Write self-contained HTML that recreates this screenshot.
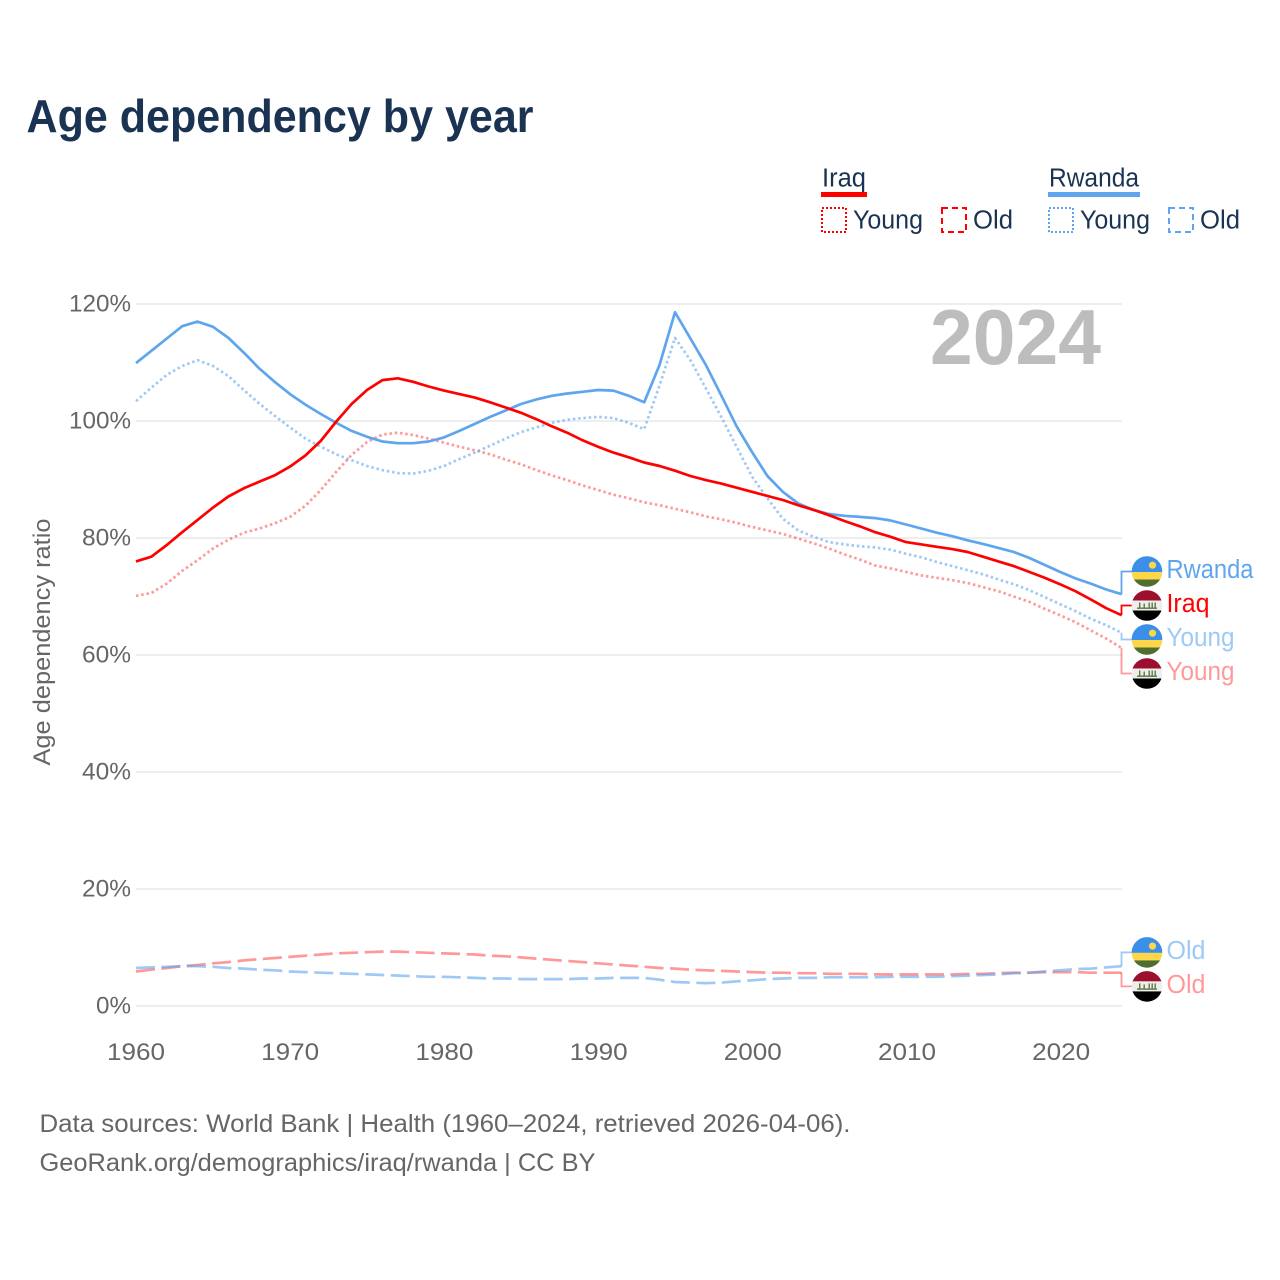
<!DOCTYPE html>
<html lang="en">
<head>
<meta charset="utf-8">
<title>Age dependency by year</title>
<style>
html,body{margin:0;padding:0;background:#fff;width:1280px;height:1280px;overflow:hidden}
svg{display:block}
text{font-family:"Liberation Sans",sans-serif}
</style>
</head>
<body>
<svg id="chart" xmlns="http://www.w3.org/2000/svg" width="1280" height="1280" viewBox="0 0 1280 1280">
  <defs>
    <clipPath id="flag-clip"><circle cx="0" cy="0" r="15.3"/></clipPath>
  </defs>
  <rect x="0" y="0" width="1280" height="1280" fill="#fff"/>
  <text x="26.5" y="132" font-size="46" font-weight="700" fill="#1a3352" textLength="507" lengthAdjust="spacingAndGlyphs">Age dependency by year</text>

  <g>
    <text x="822" y="186.5" font-size="25.5" fill="#1a3352" textLength="44" lengthAdjust="spacingAndGlyphs">Iraq</text>
    <rect x="821" y="192" width="46" height="5" fill="#ff0000"/>
    <rect x="822" y="208" width="24" height="24" fill="none" stroke="#ff0000" stroke-width="2" stroke-dasharray="2 2"/>
    <text x="853" y="228.5" font-size="25.5" fill="#1a3352" textLength="70" lengthAdjust="spacingAndGlyphs">Young</text>
    <rect x="942" y="208" width="24" height="24" fill="none" stroke="#ff0000" stroke-width="2" stroke-dasharray="6 4"/>
    <text x="973" y="228.5" font-size="25.5" fill="#1a3352" textLength="40" lengthAdjust="spacingAndGlyphs">Old</text>

    <text x="1049" y="186.5" font-size="25.5" fill="#1a3352" textLength="90" lengthAdjust="spacingAndGlyphs">Rwanda</text>
    <rect x="1048" y="192" width="92" height="5" fill="#5fa5ee"/>
    <rect x="1049" y="208" width="24" height="24" fill="none" stroke="#5fa5ee" stroke-width="2" stroke-dasharray="2 2"/>
    <text x="1080" y="228.5" font-size="25.5" fill="#1a3352" textLength="70" lengthAdjust="spacingAndGlyphs">Young</text>
    <rect x="1169" y="208" width="24" height="24" fill="none" stroke="#5fa5ee" stroke-width="2" stroke-dasharray="6 4"/>
    <text x="1200" y="228.5" font-size="25.5" fill="#1a3352" textLength="40" lengthAdjust="spacingAndGlyphs">Old</text>
  </g>

  <g id="grid"></g>
  <text x="1101" y="364" text-anchor="end" font-size="78" font-weight="700" fill="#bdbdbd" textLength="171" lengthAdjust="spacingAndGlyphs">2024</text>
  <g id="y-ticks"></g>
  <g id="x-ticks"></g>
  <text transform="translate(50,642) rotate(-90)" text-anchor="middle" font-size="24" fill="#666" textLength="247" lengthAdjust="spacingAndGlyphs">Age dependency ratio</text>
  <g id="series"></g>
  <g id="end-labels"></g>

  <text x="39.5" y="1132" font-size="25" fill="#666" textLength="811" lengthAdjust="spacingAndGlyphs">Data sources: World Bank | Health (1960–2024, retrieved 2026-04-06).</text>
  <text x="39.5" y="1171" font-size="25" fill="#666" textLength="556" lengthAdjust="spacingAndGlyphs">GeoRank.org/demographics/iraq/rwanda | CC BY</text>
</svg>
<script>
var firstYear = 1960;
var yearTicks = [1960, 1970, 1980, 1990, 2000, 2010, 2020];
var valueTicks = [0, 20, 40, 60, 80, 100, 120];

var rwandaTotal = [109.9,112.0,114.1,116.2,117.0,116.1,114.2,111.7,109.0,106.7,104.6,102.8,101.2,99.7,98.3,97.3,96.5,96.2,96.2,96.5,97.2,98.3,99.5,100.7,101.8,102.9,103.7,104.3,104.7,105.0,105.3,105.2,104.3,103.2,109.6,118.6,114.1,109.6,104.4,99.1,94.7,90.6,87.9,85.9,84.8,84.1,83.8,83.6,83.4,83.0,82.3,81.6,80.9,80.3,79.6,79.0,78.3,77.6,76.6,75.4,74.2,73.1,72.2,71.2,70.4];
var iraqTotal = [76.0,76.8,78.8,81.0,83.1,85.2,87.1,88.5,89.6,90.7,92.2,94.1,96.6,99.9,102.9,105.3,107.0,107.3,106.7,105.9,105.2,104.6,104.0,103.2,102.3,101.4,100.3,99.1,98.0,96.7,95.6,94.6,93.8,92.9,92.3,91.5,90.6,89.9,89.3,88.6,87.9,87.2,86.5,85.6,84.8,83.9,82.9,82.0,81.0,80.2,79.3,78.9,78.5,78.1,77.6,76.8,76.0,75.2,74.2,73.2,72.1,70.9,69.5,68.0,66.8];
var rwandaYoung = [103.4,105.7,107.9,109.4,110.4,109.4,107.7,105.3,103.0,100.9,98.9,97.0,95.6,94.3,93.3,92.3,91.6,91.1,91.0,91.5,92.3,93.5,94.6,95.8,97.0,98.1,98.9,99.7,100.2,100.5,100.7,100.5,99.7,98.6,106.1,114.2,110.4,105.6,100.7,95.6,90.5,86.8,83.3,81.3,80.2,79.3,78.9,78.6,78.4,78.0,77.3,76.7,75.9,75.2,74.5,73.8,72.9,72.1,71.1,69.9,68.7,67.5,66.2,65.1,63.8];
var iraqYoung = [70.1,70.6,72.2,74.4,76.2,78.2,79.7,80.9,81.6,82.5,83.6,85.5,88.2,91.3,94.2,96.4,97.7,98.0,97.6,97.0,96.3,95.6,95.0,94.3,93.4,92.6,91.6,90.7,89.9,89.0,88.2,87.4,86.8,86.1,85.6,85.0,84.4,83.7,83.2,82.6,81.9,81.3,80.7,79.9,79.1,78.2,77.2,76.3,75.3,74.8,74.2,73.6,73.2,72.8,72.3,71.6,70.9,70.0,69.1,67.9,66.8,65.6,64.2,62.8,61.2];
var rwandaOld = [6.5,6.6,6.7,6.8,6.8,6.7,6.5,6.4,6.2,6.1,5.9,5.8,5.7,5.6,5.5,5.4,5.3,5.2,5.1,5.0,5.0,4.9,4.8,4.7,4.7,4.6,4.6,4.6,4.6,4.7,4.7,4.8,4.8,4.8,4.5,4.1,4.0,3.9,4.0,4.2,4.4,4.6,4.7,4.8,4.8,4.9,4.9,4.9,4.9,5.0,5.0,5.0,5.0,5.1,5.2,5.3,5.4,5.6,5.7,5.9,6.1,6.3,6.4,6.6,6.8];
var iraqOld = [5.9,6.2,6.5,6.8,7.0,7.3,7.5,7.8,8.0,8.2,8.4,8.6,8.8,9.0,9.1,9.2,9.3,9.3,9.2,9.1,9.0,8.9,8.8,8.6,8.5,8.3,8.1,7.9,7.7,7.5,7.3,7.1,6.9,6.7,6.5,6.4,6.2,6.1,6.0,5.9,5.8,5.7,5.7,5.6,5.6,5.5,5.5,5.5,5.4,5.4,5.4,5.4,5.4,5.4,5.5,5.5,5.6,5.7,5.7,5.8,5.8,5.8,5.7,5.7,5.7];

var NS = 'http://www.w3.org/2000/svg';
function xScale(year) { return 136 + (year - firstYear) * 15.4; }
function yScale(value) { return 1006 - value * 5.85; }
function make(tag, attrs, parent) {
  var el = document.createElementNS(NS, tag);
  for (var k in attrs) el.setAttribute(k, attrs[k]);
  parent.appendChild(el);
  return el;
}

var gridGroup = document.getElementById('grid');
var yTickGroup = document.getElementById('y-ticks');
valueTicks.forEach(function (v) {
  var line = make('line', {x1: 136, x2: 1122, y1: yScale(v), y2: yScale(v), stroke: '#eeeeee', 'stroke-width': 2}, gridGroup);
  
  
  var w = v >= 100 ? 62 : (v > 0 ? 49 : 35);
  var t = make('text', {x: 131 - w, y: yScale(v) + 7.5, 'font-size': 24, fill: '#666', textLength: w, lengthAdjust: 'spacingAndGlyphs'}, yTickGroup);
  t.textContent = v + '%';
  
  
});

var xTickGroup = document.getElementById('x-ticks');
yearTicks.forEach(function (yr) {
  var t = make('text', {x: 136 + (yr - firstYear) * 15.42 - 29, y: 1060, 'font-size': 24, fill: '#666', textLength: 58, lengthAdjust: 'spacingAndGlyphs'}, xTickGroup);
  t.textContent = yr;
  
  
});

var seriesList = [
  {key: 'iraq-old', values: iraqOld, color: '#ff0000', opacity: 0.4, dash: '19 6.5', country: 'iraq', label: 'Old', w: 39},
  {key: 'rwanda-old', values: rwandaOld, color: '#5fa5ee', opacity: 0.6, dash: '19 6.5', country: 'rwanda', label: 'Old', w: 39},
  {key: 'iraq-young', values: iraqYoung, color: '#ff0000', opacity: 0.4, dash: '2.5 2.8', country: 'iraq', label: 'Young', w: 68},
  {key: 'rwanda-young', values: rwandaYoung, color: '#5fa5ee', opacity: 0.6, dash: '2.5 2.8', country: 'rwanda', label: 'Young', w: 68},
  {key: 'rwanda-total', values: rwandaTotal, color: '#5fa5ee', opacity: 1, dash: '', country: 'rwanda', label: 'Rwanda', w: 87},
  {key: 'iraq-total', values: iraqTotal, color: '#ff0000', opacity: 1, dash: '', country: 'iraq', label: 'Iraq', w: 43}
];

var seriesGroup = document.getElementById('series');
seriesList.forEach(function (s) {
  var pts = s.values.map(function (v, i) {
    return xScale(firstYear + i).toFixed(1) + ',' + yScale(v).toFixed(1);
  }).join(' ');
  var attrs = {points: pts, fill: 'none', stroke: s.color, 'stroke-opacity': s.opacity, 'stroke-width': 2.7, 'stroke-linejoin': 'round'};
  if (s.dash) attrs['stroke-dasharray'] = s.dash;
  var line = make('polyline', attrs, seriesGroup);
  
  
});

/* Resolve end-label positions: stack colliding labels 34px apart, centred on their line ends */
var ordered = seriesList.map(function (s) {
  return {s: s, endY: yScale(s.values[s.values.length - 1])};
}).sort(function (a, b) { return a.endY - b.endY; });
var clusters = [];
ordered.forEach(function (o) {
  var last = clusters[clusters.length - 1];
  if (last && o.endY - last[last.length - 1].endY < 34) last.push(o);
  else clusters.push([o]);
});
clusters.forEach(function (c) {
  var mean = c.reduce(function (a, o) { return a + o.endY; }, 0) / c.length;
  c.forEach(function (o, k) { o.labelY = mean + (k - (c.length - 1) / 2) * 34; });
});

function drawFlag(country, cy, parent) {
  var g = make('g', {transform: 'translate(1147,' + cy.toFixed(1) + ')', 'clip-path': 'url(#flag-clip)'}, parent);
  
  
  if (country === 'rwanda') {
    make('rect', {x: -16, y: -16, width: 32, height: 16.5, fill: '#3b8fe8'}, g);
    make('rect', {x: -16, y: 0.5, width: 32, height: 7.5, fill: '#fdd74a'}, g);
    make('rect', {x: -16, y: 8, width: 32, height: 8, fill: '#4f6e2f'}, g);
    make('circle', {cx: 5.5, cy: -6.3, r: 3.6, fill: '#fdd74a'}, g);
  } else {
    make('rect', {x: -16, y: -16, width: 32, height: 11, fill: '#9c0f2f'}, g);
    make('rect', {x: -16, y: -5, width: 32, height: 10, fill: '#eeeeee'}, g);
    make('rect', {x: -16, y: 5, width: 32, height: 11, fill: '#000000'}, g);
    make('rect', {x: -10, y: 2, width: 20, height: 1.4, fill: '#5a7a3c'}, g);
    make('rect', {x: -8, y: -3, width: 1.4, height: 5, fill: '#5a7a3c'}, g);
    make('rect', {x: -3.5, y: -2, width: 1.4, height: 4, fill: '#5a7a3c'}, g);
    make('rect', {x: 1.5, y: -3, width: 1.4, height: 5, fill: '#5a7a3c'}, g);
    make('rect', {x: 4.5, y: -3, width: 1.4, height: 5, fill: '#5a7a3c'}, g);
    make('rect', {x: 7.5, y: -3, width: 1.4, height: 5, fill: '#5a7a3c'}, g);
  }
}

var endGroup = document.getElementById('end-labels');
ordered.forEach(function (o) {
  var s = o.s;
  var connector = make('polyline', {
    points: '1121.5,' + o.endY.toFixed(1) + ' 1121.5,' + o.labelY.toFixed(1) + ' 1133,' + o.labelY.toFixed(1),
    fill: 'none', stroke: s.color, 'stroke-opacity': s.opacity, 'stroke-width': 1.8
  }, endGroup);
  
  
  drawFlag(s.country, o.labelY, endGroup);
  var t = make('text', {x: 1166.5, y: o.labelY + 6.5, 'font-size': 25.5, fill: s.color, 'fill-opacity': s.opacity, textLength: s.w, lengthAdjust: 'spacingAndGlyphs'}, endGroup);
  t.textContent = s.label;
  
  
});
</script>
</body>
</html>
